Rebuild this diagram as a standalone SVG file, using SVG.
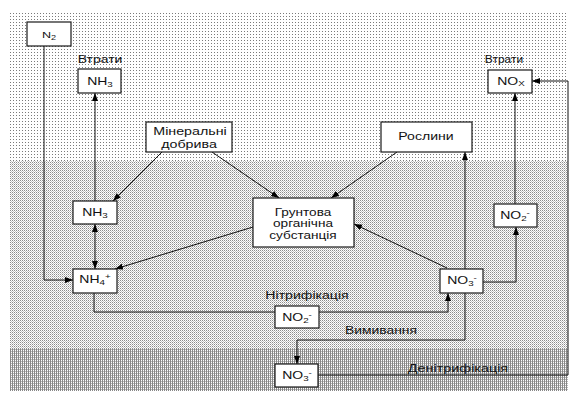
<svg xmlns="http://www.w3.org/2000/svg" width="571" height="394" viewBox="0 0 571 394">
<defs>
<pattern id="pTop" width="3" height="3" patternUnits="userSpaceOnUse"><rect width="3" height="3" fill="#fff"/><rect x="1" y="1" width="1" height="1" fill="#7a7a7a"/></pattern>
<pattern id="pMid" width="2" height="2" patternUnits="userSpaceOnUse"><rect width="2" height="2" fill="#fff"/><rect x="0" y="0" width="1" height="1" fill="#8c8c8c"/><rect x="1" y="1" width="1" height="1" fill="#c4c4c4"/></pattern>
<pattern id="pBot" width="2" height="2" patternUnits="userSpaceOnUse"><rect width="2" height="2" fill="#fff"/><rect x="0" y="0" width="1" height="2" fill="#888"/><rect x="1" y="1" width="1" height="1" fill="#b8b8b8"/></pattern>
<marker id="ah" markerUnits="userSpaceOnUse" markerWidth="9" markerHeight="7" refX="8" refY="3" orient="auto-start-reverse"><path d="M0,0 L8,3 L0,6 z" fill="#000"/></marker>
<style>
.box{fill:#fff;stroke:#1a1a1a;stroke-width:1.2}
.t{font-family:"Liberation Sans",Arial,sans-serif;font-size:10px;fill:#111;text-anchor:middle}
.sub{font-size:7px}
.ln{fill:none;stroke:#111;stroke-width:1}
.ar{marker-end:url(#ah)}
</style>
</defs>
<g id="background">
<rect x="10" y="12" width="558" height="149" fill="url(#pTop)"/>
<rect x="10" y="161" width="558" height="188" fill="url(#pMid)"/>
<rect x="10" y="349" width="558" height="42" fill="url(#pBot)"/>
</g>
<g id="connectors">
<polyline class="ln ar" points="44,46 44,280 73,280"/>
<line class="ln ar" x1="95" y1="201" x2="95" y2="93"/>
<line class="ln ar" x1="95" y1="224" x2="95" y2="269" marker-start="url(#ah)"/>
<line class="ln ar" x1="162" y1="152" x2="113" y2="201"/>
<line class="ln ar" x1="212" y1="152" x2="279" y2="198"/>
<line class="ln ar" x1="397" y1="152" x2="331" y2="198"/>
<line class="ln ar" x1="253" y1="227" x2="115" y2="269"/>
<polyline class="ln ar" points="94,293 94,312 448,312 448,293"/>
<line class="ln ar" x1="447" y1="268" x2="354" y2="224"/>
<line class="ln ar" x1="465" y1="269" x2="465" y2="152"/>
<polyline class="ln ar" points="483,282 516,282 516,227"/>
<line class="ln ar" x1="515" y1="204" x2="515" y2="93"/>
<polyline class="ln ar" points="465,293 465,340 297,340 297,364"/>
<polyline class="ln ar" points="318,375 568,375 568,81 532,81"/>
</g>
<g id="labels">
<text class="t" transform="translate(100,63) scale(1.4,1)">Втрати</text>
<text class="t" transform="translate(504,63) scale(1.2,1)">Втрати</text>
<text class="t" transform="translate(307,299) scale(1.41,1)">Нітрифікація</text>
<text class="t" transform="translate(381,334) scale(1.39,1)">Вимивання</text>
<text class="t" transform="translate(458,372) scale(1.44,1)">Денітрифікація</text>
</g>
<g id="n2"><rect class="box" x="27" y="22" width="44" height="24"/><text class="t" style="font-size:9px" transform="translate(49,38) scale(1.4,1)">N<tspan class="sub" style="font-size:6.5px" dy="1.5">2</tspan></text></g>
<g id="nh3-top"><rect class="box" x="78" y="69" width="43" height="24"/><text class="t" transform="translate(100,85) scale(1.4,1)">NH<tspan class="sub" dy="2">3</tspan></text></g>
<g id="mineral"><rect class="box" x="146" y="122" width="86" height="30"/><text class="t" style="font-size:10.5px" transform="translate(190,135) scale(1.36,1)">Мінеральні</text><text class="t" style="font-size:10.5px" transform="translate(189,147.5) scale(1.36,1)">добрива</text></g>
<g id="plants"><rect class="box" x="381" y="122" width="91" height="30"/><text class="t" style="font-size:10.5px" transform="translate(426,140) scale(1.34,1)">Рослини</text></g>
<g id="nox"><rect class="box" x="488" y="70" width="44" height="23"/><text class="t" transform="translate(511,85) scale(1.4,1)">NO<tspan class="sub" dy="1">X</tspan></text></g>
<g id="soil"><rect class="box" x="253" y="198" width="101" height="49"/><text class="t" transform="translate(303,215.5) scale(1.36,1)">Грунтова</text><text class="t" transform="translate(303,227) scale(1.36,1)">органічна</text><text class="t" transform="translate(303,238.5) scale(1.36,1)">субстанція</text></g>
<g id="nh3-mid"><rect class="box" x="73" y="201" width="44" height="23"/><text class="t" transform="translate(95,216) scale(1.4,1)">NH<tspan class="sub" dy="2">3</tspan></text></g>
<g id="nh4"><rect class="box" x="73" y="269" width="44" height="24"/><text class="t" transform="translate(95,283) scale(1.4,1)">NH<tspan class="sub" dy="2">4</tspan><tspan class="sub" dy="-6">+</tspan></text></g>
<g id="no2-right"><rect class="box" x="494" y="204" width="43" height="23"/><text class="t" transform="translate(515,218.5) scale(1.4,1)">NO<tspan class="sub" dy="2">2</tspan><tspan class="sub" dy="-6">-</tspan></text></g>
<g id="no3-right"><rect class="box" x="440" y="269" width="43" height="24"/><text class="t" transform="translate(462,284) scale(1.4,1)">NO<tspan class="sub" dy="2">3</tspan><tspan class="sub" dy="-6">-</tspan></text></g>
<g id="no2-mid"><rect class="box" x="275" y="306" width="44" height="22"/><text class="t" transform="translate(297,320.5) scale(1.4,1)">NO<tspan class="sub" dy="2">2</tspan><tspan class="sub" dy="-6">-</tspan></text></g>
<g id="no3-bottom"><rect class="box" x="275" y="364" width="43" height="23"/><text class="t" transform="translate(297,379) scale(1.4,1)">NO<tspan class="sub" dy="2">3</tspan><tspan class="sub" dy="-6">-</tspan></text></g>
</svg>
